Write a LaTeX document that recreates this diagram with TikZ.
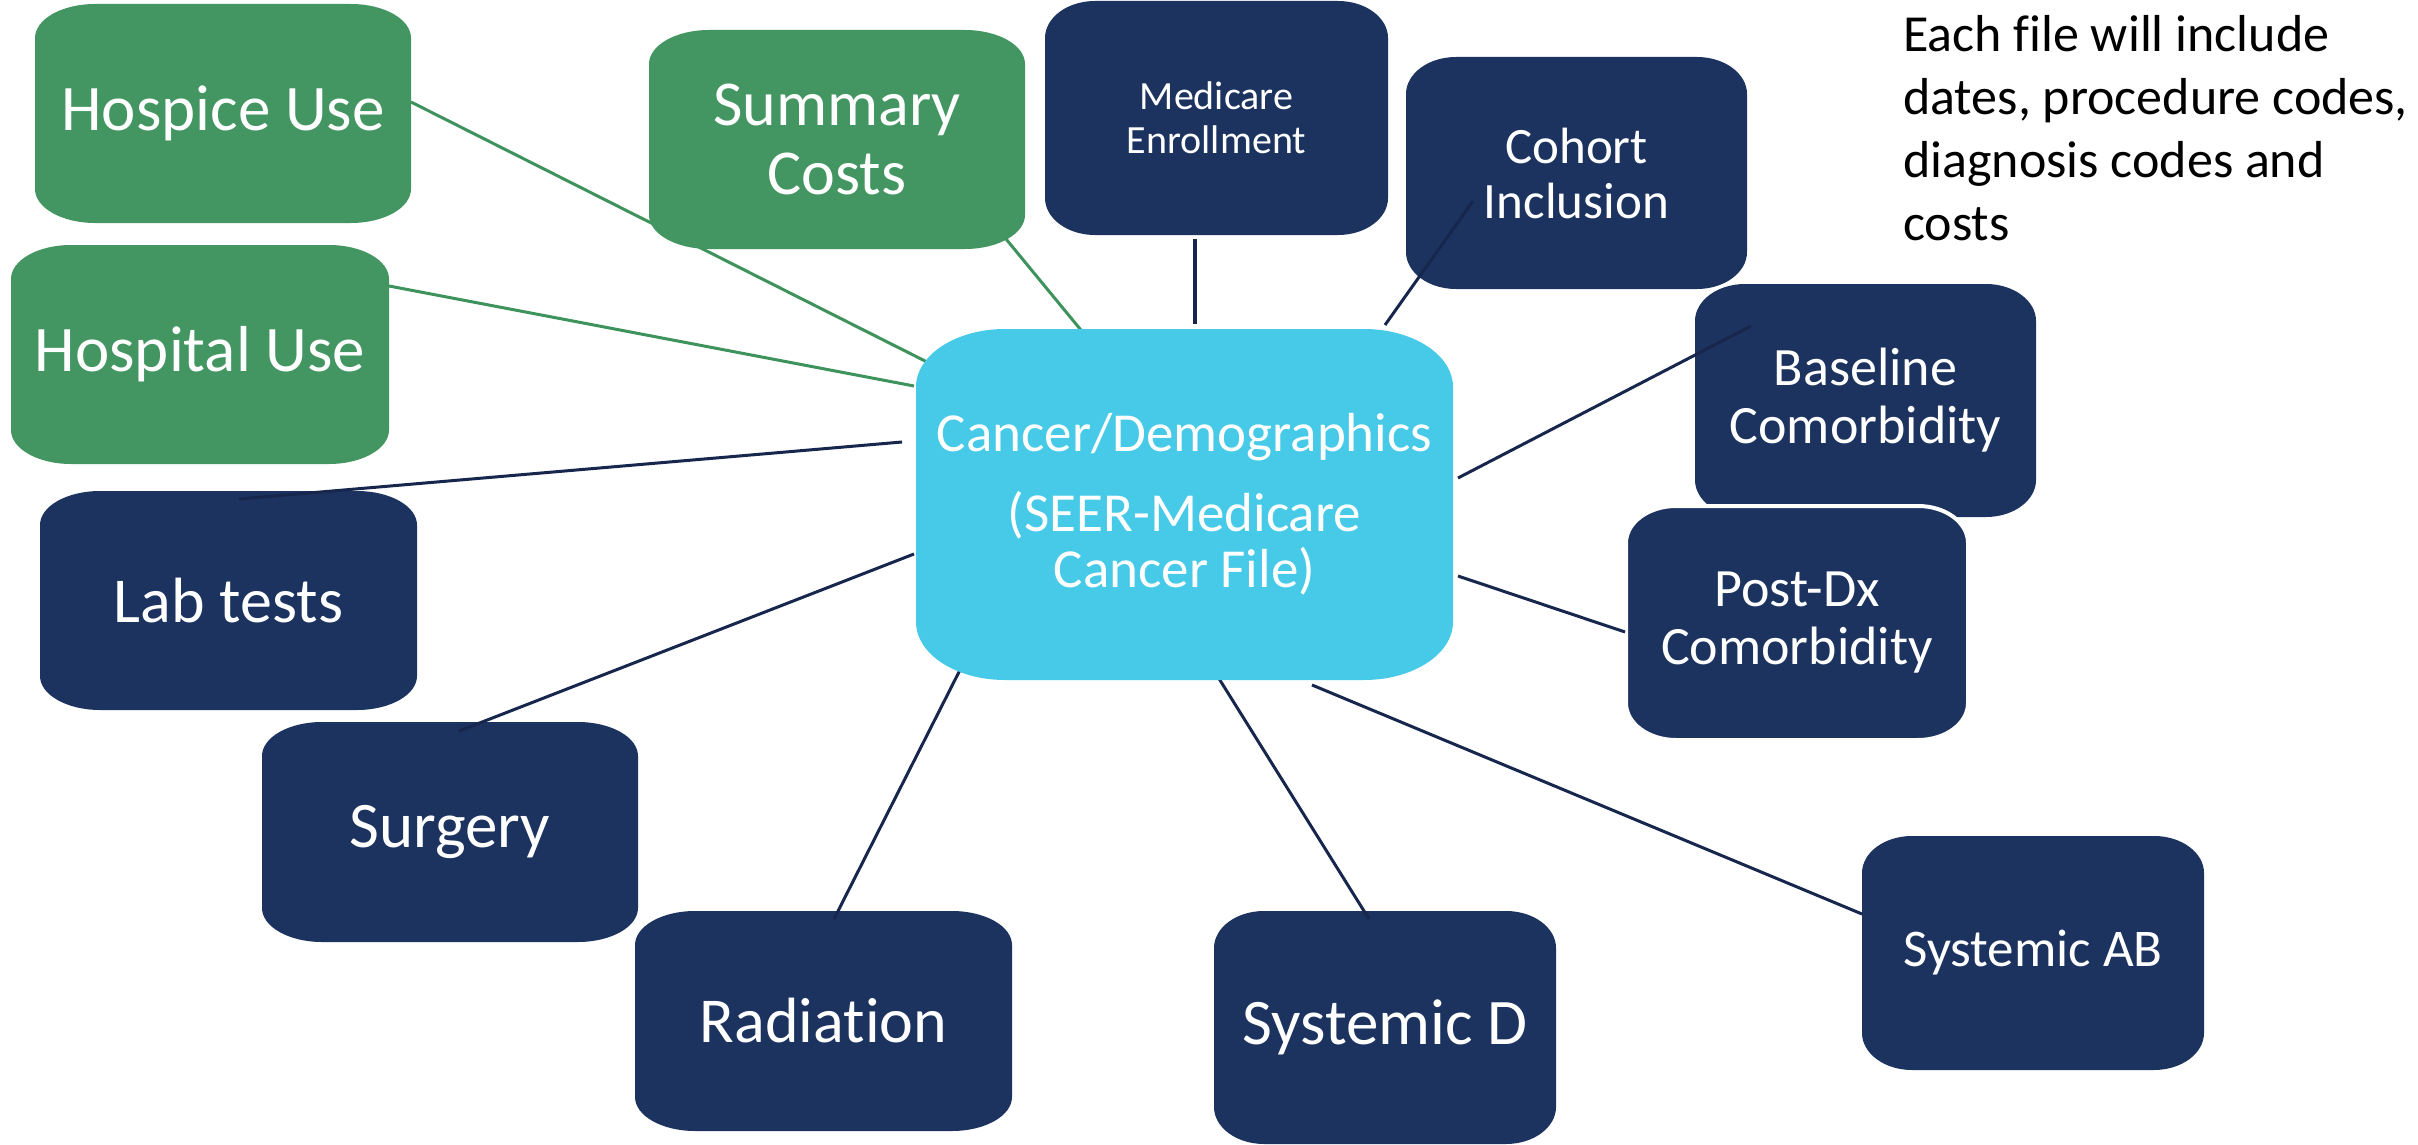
\documentclass[tikz,border=0pt]{standalone}
\usepackage{fontspec}
\setmainfont[Ligatures=NoCommon]{Carlito}
\definecolor{boxgreen}{RGB}{67,150,97}
\definecolor{boxnavy}{RGB}{28,51,96}
\definecolor{boxcyan}{RGB}{70,202,232}
\definecolor{linenavy}{RGB}{22,38,76}
\definecolor{linegreen}{RGB}{62,146,92}
\newcommand\fsz[2]{\fontsize{#1}{#2}\selectfont}
% rounded rectangle with elliptical corners: x1 y1 x2 y2 rx ry style
\newcommand\shapebox[7]{%
  \path[#7] (#1+#5,#2) -- (#3-#5,#2)
    .. controls (#3-0.448*#5,#2) and (#3,#2+0.448*#6) .. (#3,#2+#6)
    -- (#3,#4-#6)
    .. controls (#3,#4-0.448*#6) and (#3-0.448*#5,#4) .. (#3-#5,#4)
    -- (#1+#5,#4)
    .. controls (#1+0.448*#5,#4) and (#1,#4-0.448*#6) .. (#1,#4-#6)
    -- (#1,#2+#6)
    .. controls (#1,#2+0.448*#6) and (#1+0.448*#5,#2) .. cycle;}
\begin{document}
\begin{tikzpicture}[x=1pt,y=-1pt,
  txt/.style={text=white, align=center, inner sep=0pt, shape=rectangle},
  bigbox/.style={txt, minimum width=376, minimum height=219},
  smallbox/.style={txt, minimum width=342, minimum height=234},
  greenfill/.style={fill=boxgreen},
  navyfill/.style={fill=boxnavy},
  cyanfill/.style={fill=boxcyan},
  gline/.style={draw=linegreen, line width=3pt},
  nline/.style={draw=linenavy, line width=3pt}]
\fill[white] (0,0) rectangle (2418,1145);
\useasboundingbox (0,0) rectangle (2418,1145);

% boxes below the connectors
\shapebox{35}{4}{411}{223}{60}{34}{greenfill}
\node[bigbox, font=\fsz{65}{78}] (hospice) at (223,113.5) {Hospice Use};
\shapebox{11}{245}{389}{464}{60}{34}{greenfill}
\node[bigbox, font=\fsz{65}{78}] (hospital) at (200,354.5) {Hospital Use};
\shapebox{40}{491}{417}{710}{60}{34}{navyfill}
\node[bigbox, font=\fsz{64}{78}] (lab) at (228.5,600.5) {Lab tests};
\shapebox{262}{722}{638}{942}{60}{34}{navyfill}
\node[bigbox, font=\fsz{65}{78}] (surgery) at (450,832) {Surgery};
\shapebox{635}{911}{1012}{1131}{60}{34}{navyfill}
\node[bigbox, font=\fsz{64}{78}] (radiation) at (823.5,1021) {Radiation};

\shapebox{1045}{1}{1388}{235}{50}{37}{navyfill}
\node[smallbox, font=\fsz{40}{44}] (medicare) at (1216.5,118) {Medicare\\Enrollment};
\shapebox{1406}{57}{1747}{289}{50}{37}{navyfill}
\node[smallbox, font=\fsz{51}{55}] (cohort) at (1576.5,173) {Cohort\\Inclusion};
\shapebox{1695}{284}{2036}{517}{50}{37}{navyfill}
\node[smallbox, font=\fsz{54}{58}] (baseline) at (1865.5,400.5) {Baseline\\Comorbidity};
\shapebox{1626}{506}{1968}{740}{50}{37}{navyfill, draw=white, line width=4pt}
\node[smallbox, font=\fsz{54}{58}] (postdx) at (1797,623) {Post-Dx\\Comorbidity};
\shapebox{1214}{911}{1556}{1144}{50}{37}{navyfill}
\node[smallbox, font=\fsz{65}{78}] (sysd) at (1385,1027.5) {Systemic D};
\shapebox{1862}{836}{2204}{1070}{50}{37}{navyfill}
\node[smallbox, font=\fsz{53}{60}] (sysab) at (2033,953) {Systemic AB};

% center node (text placed later), defined here for names
\node[txt, minimum width=537, minimum height=351] (c) at (1184.5,504.5) {};

% connectors
\draw[gline] ([shift={(188,-11.5)}]hospice.center) -- ([shift={(-255.5,-141.5)}]c.center);
\draw[gline] ([shift={(189,-68.5)}]hospital.center) -- ([shift={(-270.5,-118.5)}]c.center);
\draw[nline, line width=3.5pt] ([shift={(-21.5,121)}]medicare.center) -- ([shift={(10.5,-180.5)}]c.center);
\draw[nline] ([shift={(-103.5,28)}]cohort.center) -- ([shift={(200.5,-179.5)}]c.center);
\draw[nline] ([shift={(-114.5,-74.5)}]baseline.center) -- ([shift={(273.5,-26.5)}]c.center);
\draw[nline] ([shift={(-172,9)}]postdx.center) -- ([shift={(273.5,71.5)}]c.center);
\draw[nline] ([shift={(-171,-39)}]sysab.center) -- ([shift={(127.5,180.5)}]c.center);
\draw[nline] ([shift={(-16,-108.5)}]sysd.center) -- ([shift={(33.5,172.5)}]c.center);
\draw[nline] ([shift={(10.5,-102)}]radiation.center) -- ([shift={(-222.5,161.5)}]c.center);
\draw[nline] ([shift={(9,-101)}]surgery.center) -- ([shift={(-270.5,49.5)}]c.center);
\draw[nline] ([shift={(10.5,-101.5)}]lab.center) -- ([shift={(-282.5,-62.5)}]c.center);

% boxes above the connectors
\shapebox{649}{30}{1025}{249}{60}{34}{greenfill}
\node[bigbox, font=\fsz{64}{69}] (summary) at (837,139.5) {Summary\\Costs};
\draw[gline] ([shift={(169,99.5)}]summary.center) -- ([shift={(-99.5,-169.5)}]c.center);

\shapebox{916}{329}{1453}{680}{89}{58}{cyanfill}
\node[txt, font=\fsz{55}{56}] (ctext) at (c.center) {Cancer/Demographics\\[24pt](SEER-Medicare\\Cancer File)};

% note
\node[anchor=north west, align=left, inner sep=0pt, font=\fsz{52}{63}] (note) at (1903,15)
  {Each file will include\\dates, procedure codes,\\diagnosis codes and\\costs};
\end{tikzpicture}
\end{document}
